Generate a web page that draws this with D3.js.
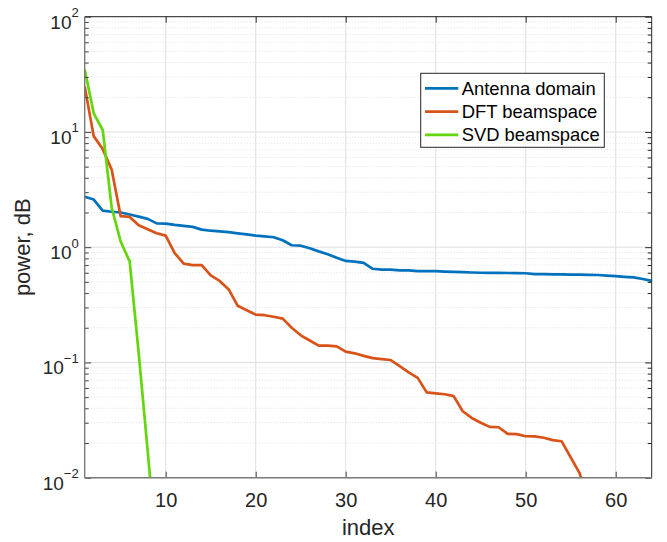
<!DOCTYPE html>
<html>
<head>
<meta charset="utf-8">
<script src="https://cdn.jsdelivr.net/npm/d3@7"></script>
<style>
  body { margin: 0; background: #fff; }
  svg { font-family: 'Liberation Sans', Arial, Helvetica, sans-serif; }
</style>
</head>
<body>
<svg id="chart" width="667" height="542"></svg>
<script>
// values (index starts at 1)
const antennaDomain = [
  2.74, 2.59, 2.08, 2.03, 2.0, 1.92, 1.84, 1.76, 1.61, 1.60,
  1.56, 1.53, 1.50, 1.42, 1.39, 1.37, 1.35, 1.32, 1.29, 1.26,
  1.24, 1.22, 1.15, 1.04, 1.03, 0.98, 0.92, 0.87, 0.81, 0.76,
  0.75, 0.73, 0.65, 0.64, 0.64, 0.63, 0.63, 0.62, 0.62, 0.62,
  0.615, 0.61, 0.607, 0.603, 0.60, 0.598, 0.598, 0.597, 0.596, 0.594,
  0.585, 0.583, 0.582, 0.58, 0.579, 0.578, 0.576, 0.574, 0.567, 0.56,
  0.553, 0.547, 0.53, 0.51
];
const dftBeamspace = [
  24.8, 9.2, 7.1, 4.7, 1.86, 1.83, 1.55, 1.43, 1.32, 1.26,
  0.89, 0.72, 0.70, 0.70, 0.57, 0.51, 0.43, 0.31, 0.284, 0.26,
  0.257, 0.249, 0.24, 0.20, 0.172, 0.155, 0.14, 0.14, 0.138, 0.124,
  0.12, 0.114, 0.109, 0.107, 0.105, 0.093, 0.082, 0.0735, 0.055, 0.054,
  0.053, 0.051, 0.0377, 0.033, 0.030, 0.0276, 0.0274, 0.024, 0.0239, 0.0229,
  0.0228, 0.0222, 0.0212, 0.0207, 0.0150, 0.0109, 0.006
];
const svdBeamspace = [34.8, 14.5, 10.4, 2.2, 1.12, 0.75, 0.12, 0.017, 0.0023];

const seriesNames = ['Antenna domain', 'DFT beamspace', 'SVD beamspace'];
const seriesColors = ['#0072BD', '#D95319', '#64D60C'];
const xTickValues = [10, 20, 30, 40, 50, 60];
const yTickExponents = [-2, -1, 0, 1, 2];
const xDomain = [1, 64];
const yDomain = [1e-2, 1e2];

const svg = d3.select('#chart');
const margin = { top: 16.7, right: 15.3, bottom: 64.3, left: 84.7 };
const width = 667 - margin.left - margin.right;
const height = 542 - margin.top - margin.bottom;

const g = svg.append('g')
  .attr('transform', 'translate(' + margin.left + ',' + margin.top + ')');

const x = d3.scaleLinear().domain(xDomain).range([0, width]);
const y = d3.scaleLog().domain(yDomain).range([height, 0]);

const majorY = yTickExponents.map((e) => Math.pow(10, e));
const minorY = [];
yTickExponents.slice(0, -1).forEach((e) => {
  for (let k = 2; k <= 9; k++) minorY.push(k * Math.pow(10, e));
});

// background
g.append('rect').attr('width', width).attr('height', height).attr('fill', '#fff');

// grid
const grid = g.append('g').attr('class', 'grid');
grid.selectAll('.minor-y').data(minorY).enter().append('line')
  .attr('x1', 0).attr('x2', width)
  .attr('y1', (d) => y(d)).attr('y2', (d) => y(d))
  .attr('stroke', '#d6d6d6').attr('stroke-width', 0.8)
  .attr('stroke-dasharray', '1,2');
grid.selectAll('.major-y').data(majorY).enter().append('line')
  .attr('x1', 0).attr('x2', width)
  .attr('y1', (d) => y(d)).attr('y2', (d) => y(d))
  .attr('stroke', '#dfdfdf').attr('stroke-width', 1);
grid.selectAll('.major-x').data(xTickValues).enter().append('line')
  .attr('y1', 0).attr('y2', height)
  .attr('x1', (d) => x(d)).attr('x2', (d) => x(d))
  .attr('stroke', '#dfdfdf').attr('stroke-width', 1);

// lines
svg.append('defs').append('clipPath').attr('id', 'plot-clip')
  .append('rect').attr('width', width).attr('height', height);

const line = d3.line()
  .x((d, i) => x(i + 1))
  .y((d) => y(d));

const lines = g.append('g').attr('clip-path', 'url(#plot-clip)');
[antennaDomain, dftBeamspace, svdBeamspace].forEach((s, k) => {
  lines.append('path')
    .attr('d', line(s))
    .attr('fill', 'none')
    .attr('stroke', seriesColors[k])
    .attr('stroke-width', 2.7)
    .attr('stroke-linejoin', 'round');
});

// axes (ticks inside, box on)
function styleAxis(sel, color) {
  sel.select('.domain').remove();
  sel.selectAll('.tick line').attr('stroke', color);
}

const xBottom = g.append('g').attr('transform', `translate(0,${height})`)
  .call(d3.axisBottom(x).tickValues(xTickValues).tickSize(-6).tickPadding(0));
styleAxis(xBottom, '#404040');
xBottom.selectAll('text')
  .attr('y', 29).attr('dy', 0)
  .attr('font-size', 20).attr('fill', '#262626');

const xTop = g.append('g')
  .call(d3.axisTop(x).tickValues(xTickValues).tickSize(-6).tickFormat(''));
styleAxis(xTop, '#262626');

const yLeft = g.append('g')
  .call(d3.axisLeft(y).tickValues(majorY).tickSize(-6.5).tickFormat(''));
styleAxis(yLeft, '#404040');
const yLeftMinor = g.append('g')
  .call(d3.axisLeft(y).tickValues(minorY).tickSize(-4).tickFormat(''));
styleAxis(yLeftMinor, '#404040');

const yRight = g.append('g').attr('transform', `translate(${width},0)`)
  .call(d3.axisRight(y).tickValues(majorY).tickSize(-6.5).tickFormat(''));
styleAxis(yRight, '#262626');
const yRightMinor = g.append('g').attr('transform', `translate(${width},0)`)
  .call(d3.axisRight(y).tickValues(minorY).tickSize(-4).tickFormat(''));
styleAxis(yRightMinor, '#262626');

// y tick labels 10^n
const yLabels = g.append('g').selectAll('text').data(yTickExponents).enter()
  .append('text')
  .attr('x', -6)
  .attr('y', (d) => y(Math.pow(10, d)) + 12)
  .attr('text-anchor', 'end')
  .attr('fill', '#262626');
yLabels.append('tspan').attr('font-size', 19).text('10');
yLabels.append('tspan')
  .attr('font-size', 13)
  .attr('dy', -11.5)
  .text((d) => (d < 0 ? '\u2212' + Math.abs(d) : String(d)));

// box
g.append('line').attr('x1', 0).attr('x2', width).attr('y1', 0).attr('y2', 0)
  .attr('stroke', '#262626').attr('stroke-width', 1);
g.append('line').attr('x1', width).attr('x2', width).attr('y1', 0).attr('y2', height)
  .attr('stroke', '#262626').attr('stroke-width', 1);
g.append('line').attr('x1', 0).attr('x2', width).attr('y1', height).attr('y2', height)
  .attr('stroke', '#7a7a7a').attr('stroke-width', 1.4);
g.append('line').attr('x1', 0).attr('x2', 0).attr('y1', 0).attr('y2', height)
  .attr('stroke', '#7a7a7a').attr('stroke-width', 1.4);

// axis labels
svg.append('text')
  .attr('x', margin.left + width / 2).attr('y', 535)
  .attr('text-anchor', 'middle').attr('font-size', 22).attr('fill', '#262626')
  .text('index');
svg.append('text')
  .attr('transform', `translate(30,${margin.top + height / 2}) rotate(-90)`)
  .attr('text-anchor', 'middle').attr('font-size', 22).attr('fill', '#262626')
  .text('power, dB');

// legend
const legend = svg.append('g').attr('transform', 'translate(420.7,73.3)');
legend.append('rect')
  .attr('width', 183.6).attr('height', 74)
  .attr('fill', '#fff').attr('stroke', '#262626').attr('stroke-width', 1);
seriesNames.forEach((name, k) => {
  const ly = 15 + k * 23.3;
  legend.append('line')
    .attr('x1', 4.3).attr('x2', 37.6).attr('y1', ly).attr('y2', ly)
    .attr('stroke', seriesColors[k]).attr('stroke-width', 2.7);
  legend.append('text')
    .attr('x', 41).attr('y', ly + 6.5)
    .attr('font-size', 18.4).attr('fill', '#000')
    .text(name);
});
</script>
</body>
</html>
